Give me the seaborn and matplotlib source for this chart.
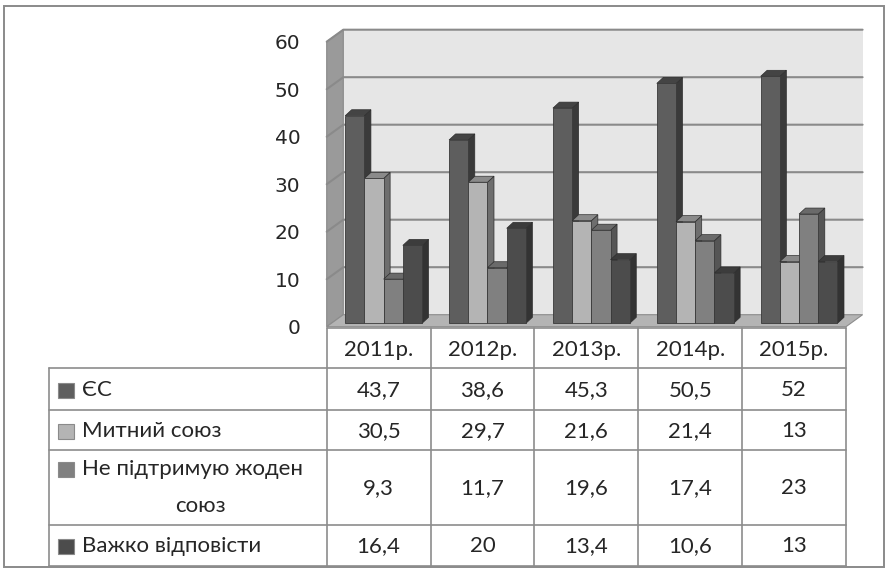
import matplotlib
matplotlib.use('Agg')
import matplotlib.pyplot as plt
import matplotlib.patches as mpatches
import matplotlib.transforms as mtransforms
import seaborn as sns
import pandas as pd

years = ['2011р.', '2012р.', '2013р.', '2014р.', '2015р.']
series = ['ЄС', 'Митний союз', 'Не підтримую жоден союз', 'Важко відповісти']
row_labels = ['ЄС', 'Митний союз', 'Не підтримую жоден\nсоюз', 'Важко відповісти']
eu = [43.7, 38.6, 45.3, 50.5, 52]
customs = [30.5, 29.7, 21.6, 21.4, 13]
neither = [9.3, 11.7, 19.6, 17.4, 23]
hard = [16.4, 20, 13.4, 10.6, 13]
value_labels = [
    ['43,7', '38,6', '45,3', '50,5', '52'],
    ['30,5', '29,7', '21,6', '21,4', '13'],
    ['9,3', '11,7', '19,6', '17,4', '23'],
    ['16,4', '20', '13,4', '10,6', '13'],
]

front = ['#5e5e5e', '#b4b4b4', '#808080', '#4c4c4c']
side = ['#3a3a3a', '#6e6e6e', '#555555', '#333333']
top = ['#444444', '#8a8a8a', '#6a6a6a', '#3c3c3c']

sns.set_theme(style='white')
plt.rcParams['font.family'] = ['DejaVu Sans']
TABLE_FONT = ['Lato', 'Open Sans', 'DejaVu Sans']
TFS = 16

W, H = 887, 568
fig = plt.figure(figsize=(W / 100, H / 100), dpi=100)

# axes = front plane of the 3d box
x0, x1 = 326.7, 846.0
y0, y60 = 326.7, 41.7
ax = fig.add_axes([x0 / W, (H - y0) / H, (x1 - x0) / W, (y0 - y60) / H])
ax.set_facecolor('none')
ax.set_zorder(2)
for s in ax.spines.values():
    s.set_visible(False)

df = pd.DataFrame({
    'year': years * 4,
    'series': [s for s in series for _ in years],
    'value': eu + customs + neither + hard,
})
sns.barplot(data=df, x='year', y='value', hue='series', order=years,
            hue_order=series, palette=front, width=0.74, saturation=1,
            edgecolor='#3a3a3a', linewidth=0.6, legend=False, ax=ax)
ax.set_xlim(-0.5, 4.5)
ax.set_ylim(0, 60)
ax.set_yticks(range(0, 61, 10))
ax.set_yticklabels([str(v) for v in range(0, 61, 10)], fontsize=14.5)
ax.tick_params(axis='y', length=0, pad=19)
ax.set_xticks([])
ax.set_xlabel('')
ax.set_ylabel('')

ident = mtransforms.IdentityTransform()


def disp(x, y, dx=0.0, dy=0.0):
    px, py = ax.transData.transform((x, y))
    return (px + dx, py + dy)


# 3d box: back wall, left wall, floor
BDX, BDY = 16.6, 12.0
wall = [disp(-0.5, 0, BDX, BDY), disp(4.5, 0, BDX, BDY),
        disp(4.5, 60, BDX, BDY), disp(-0.5, 60, BDX, BDY)]
fig.patches.append(mpatches.Polygon(wall, closed=True, facecolor='#e6e6e6',
                                    edgecolor='none', transform=ident, zorder=-3))
left = [disp(-0.5, 0), disp(-0.5, 0, BDX, BDY),
        disp(-0.5, 60, BDX, BDY), disp(-0.5, 60)]
fig.patches.append(mpatches.Polygon(left, closed=True, facecolor='#9a9a9a',
                                    edgecolor='#8a8a8a', lw=0.8, transform=ident, zorder=-3))
for v in range(10, 61, 10):
    a, b, c = disp(-0.5, v), disp(-0.5, v, BDX, BDY), disp(4.5, v, BDX, BDY)
    fig.lines.append(plt.Line2D([a[0], b[0], c[0]], [a[1], b[1], c[1]],
                                color='#8a8a8a', lw=1.5, transform=ident, zorder=-2))
floor = [disp(-0.5, 0), disp(4.5, 0), disp(4.5, 0, BDX, BDY), disp(-0.5, 0, BDX, BDY)]
fig.patches.append(mpatches.Polygon(floor, closed=True, facecolor='#b4b4b4',
                                    edgecolor='#8c8c8c', lw=0.8, transform=ident, zorder=-1))

# bars: shift to bar plane and add sides / tops
BX, BY = 5.0, 3.4
bar_off = mtransforms.ScaledTranslation(BX / 100, BY / 100, fig.dpi_scale_trans)
DX, DY = 6.5, 6.0
bars = sorted(ax.patches, key=lambda p: p.get_x())
for i, p in enumerate(bars):
    p.set_transform(ax.transData + bar_off)
    p.set_zorder(3 + i * 0.01)
    p.set_clip_on(False)
    fc = matplotlib.colors.to_hex(p.get_facecolor())
    j = front.index(fc) if fc in front else 0
    bx, bw, bh = p.get_x(), p.get_width(), p.get_height()
    a = disp(bx, 0, BX, BY)
    b = disp(bx + bw, bh, BX, BY)
    sd = [(b[0], a[1]), (b[0] + DX, a[1] + DY), (b[0] + DX, b[1] + DY), (b[0], b[1])]
    tp = [(a[0], b[1]), (b[0], b[1]), (b[0] + DX, b[1] + DY), (a[0] + DX, b[1] + DY)]
    for poly, col in ((sd, side[j]), (tp, top[j])):
        ax.add_artist(mpatches.Polygon(poly, closed=True, facecolor=col,
                                       edgecolor='#2e2e2e', lw=0.5, transform=ident,
                                       zorder=3 + i * 0.01 - 0.005, clip_on=False))

# data table under the chart
GRID = '#8c8c8c'


def fx(px):
    return px / W


def fy(py):
    return 1 - py / H


col_edges = [disp(i - 0.5, 0)[0] for i in range(6)]
row_edges = [328, 368, 410, 450, 525, 566]
label_left = 49.3


def hline(xa, xb, y):
    fig.lines.append(plt.Line2D([fx(xa), fx(xb)], [fy(y), fy(y)], color=GRID,
                                lw=1.2, transform=fig.transFigure))


def vline(x, ya, yb):
    fig.lines.append(plt.Line2D([fx(x), fx(x)], [fy(ya), fy(yb)], color=GRID,
                                lw=1.2, transform=fig.transFigure))


hline(col_edges[0], col_edges[-1], row_edges[0])
for y in row_edges[1:]:
    hline(label_left, col_edges[-1], y)
for x in col_edges:
    vline(x, row_edges[0], row_edges[-1])
vline(label_left, row_edges[1], row_edges[-1])

for i, yr in enumerate(years):
    cx = (col_edges[i] + col_edges[i + 1]) / 2
    fig.text(fx(cx), fy((row_edges[0] + row_edges[1]) / 2 + 2), yr, ha='center',
             va='center', fontsize=TFS, family=TABLE_FONT)

for r in range(4):
    ya, yb = row_edges[r + 1], row_edges[r + 2]
    cy = (ya + yb) / 2 + 1
    for i in range(5):
        cx = (col_edges[i] + col_edges[i + 1]) / 2
        fig.text(fx(cx), fy(cy), value_labels[r][i], ha='center', va='center',
                 fontsize=TFS, family=TABLE_FONT)
    ly = ya + 19 if r == 2 else cy
    fig.patches.append(mpatches.Rectangle((fx(58), fy(ly + 7.5)), 16 / W, 15 / H,
                                          facecolor=front[r], edgecolor='#8a8a8a',
                                          lw=0.8, transform=fig.transFigure))
    if r == 2:
        fig.text(fx(81.7), fy(ly), 'Не підтримую жоден', ha='left', va='center',
                 fontsize=TFS, family=TABLE_FONT)
        fig.text(fx(200), fy(ly + 37), 'союз', ha='center', va='center',
                 fontsize=TFS, family=TABLE_FONT)
    else:
        fig.text(fx(81.7), fy(ly), row_labels[r], ha='left', va='center',
                 fontsize=TFS, family=TABLE_FONT)

# outer chart border
fig.patches.append(mpatches.Rectangle((fx(4), fy(567)), (884 - 4) / W, (567 - 5.7) / H,
                                      fill=False, edgecolor='#8a8a8a', lw=1.4,
                                      transform=fig.transFigure))

fig.savefig('out.png', dpi=100)
